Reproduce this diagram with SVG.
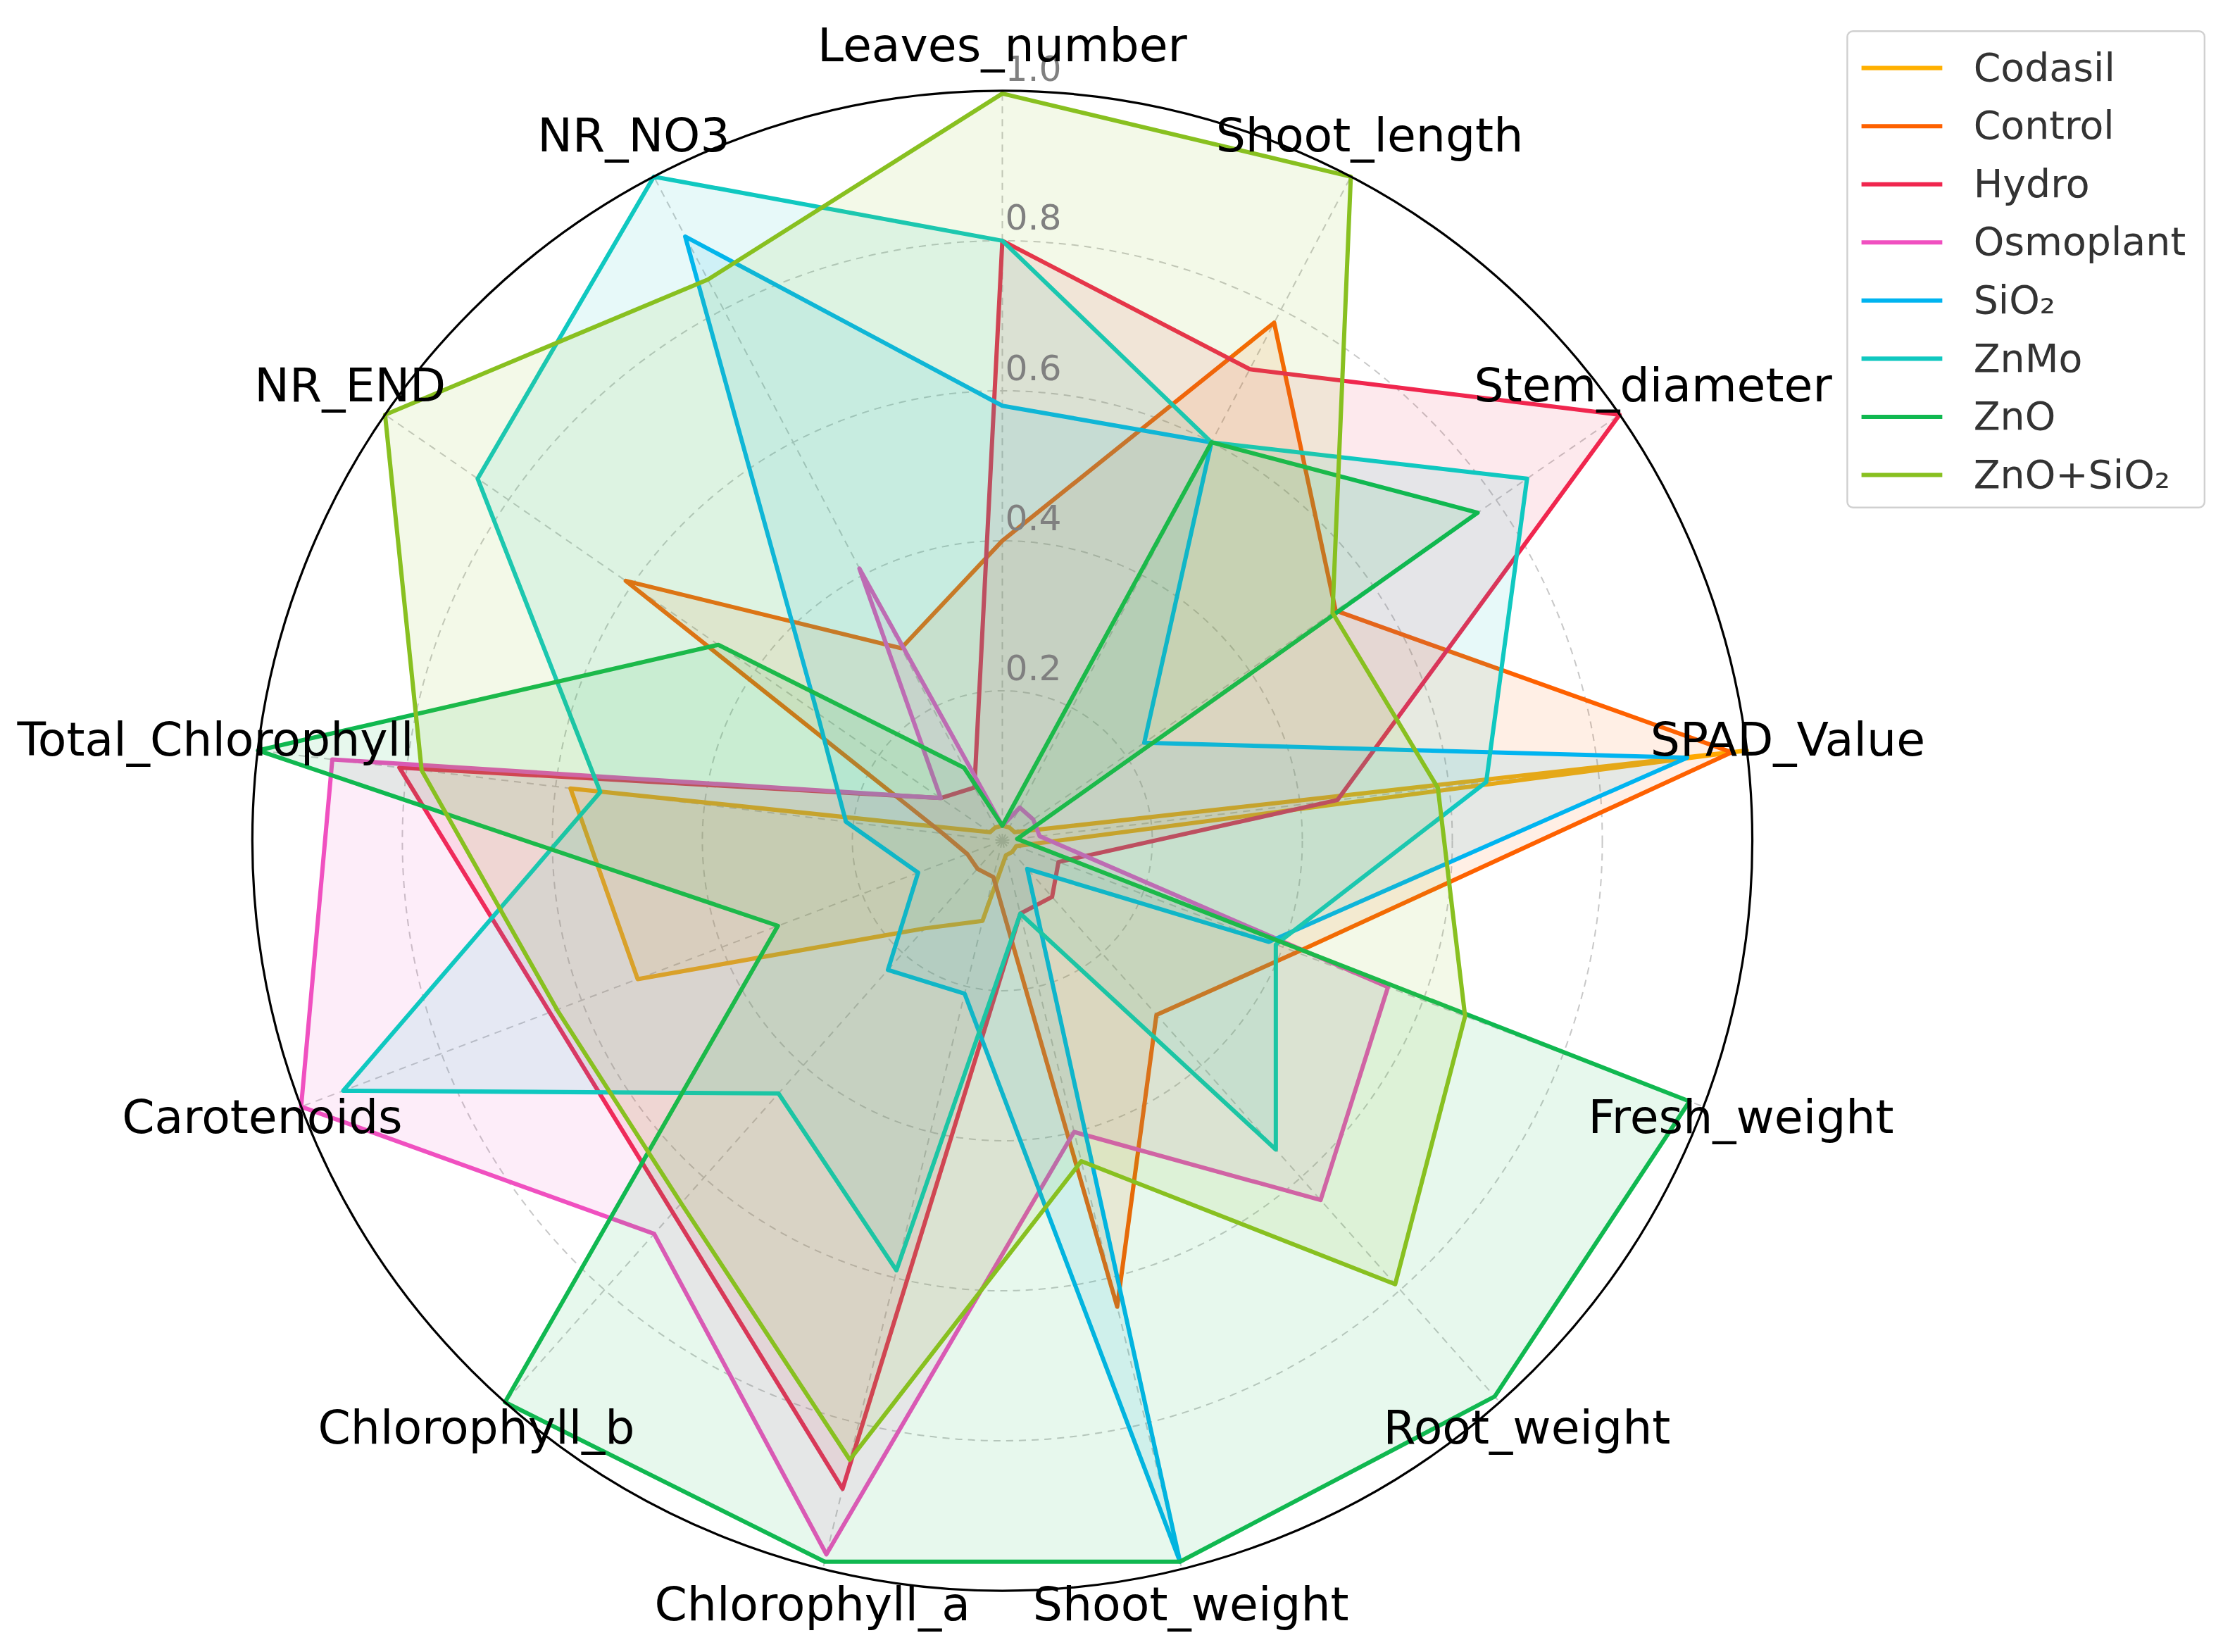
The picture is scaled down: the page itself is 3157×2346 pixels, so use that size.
<svg xmlns="http://www.w3.org/2000/svg" width="3157" height="2346" viewBox="0 0 3157 2346">
<style>
text{font-family:"DejaVu Sans","Liberation Sans",sans-serif}
.lab{font-size:33px;fill:#000;text-anchor:middle}
.tick{font-size:25px;fill:#808080}
.grid{fill:none;stroke:#c8c8c8;stroke-width:1;stroke-dasharray:5,4}
.s{stroke-width:3;stroke-linejoin:round}
.leg{font-size:27.5px;fill:#333}
</style>
<rect width="3157" height="2346" fill="#fff"/>
<g transform="scale(2.0134)">
<g transform="translate(707,593)">
<g id="grid">
<circle class="grid" r="105.8"/><circle class="grid" r="211.6"/><circle class="grid" r="317.4"/><circle class="grid" r="423.2"/>
<path class="grid" d="M0 0L0 -529M0 0L245.8 -468.4M0 0L435.4 -300.5M0 0L525.1 -63.7M0 0L494.6 187.6M0 0L350.8 396M0 0L126.6 513.6M0 0L-126.6 513.6M0 0L-350.8 396M0 0L-494.6 187.6M0 0L-525.1 -63.7M0 0L-435.4 -300.5M0 0L-245.8 -468.4"/>
</g>
<g id="connectors">
<polygon id="Codasil" class="s" fill="#FFB000" fill-opacity="0.1" stroke="#FFB000" points="0,-10.6 4.9,-9.4 8.7,-6 525.1,-63.7 9.9,3.8 7,7.9 2.5,10.3 -14,56.5 -54.7,61.8 -257.2,97.6 -304.6,-36.9 -8.7,-6 -4.9,-9.4"/>
<polygon id="Control" class="s" fill="#FE6100" fill-opacity="0.1" stroke="#FE6100" points="0,-211.6 191.7,-365.4 235.1,-162.3 514.6,-62.4 207.4,78.8 108.7,122.8 81,328.7 -6.3,25.7 -17.5,19.8 -24.7,9.4 -42,-5.1 -265.6,-183.3 -71.3,-135.8"/>
<polygon id="Hydro" class="s" fill="#F0264E" fill-opacity="0.1" stroke="#F0264E" points="0,-423.2 174.5,-332.6 435.4,-300.5 236.3,-28.7 39.6,15 35.1,39.6 12.7,51.4 -112.7,457.1 -232.4,262.3 -319.3,120.9 -425.3,-51.6 -43.5,-30.1 -19.7,-37.5"/>
<polygon id="Osmoplant" class="s" fill="#F050C0" fill-opacity="0.1" stroke="#F050C0" points="0,-10.6 12.3,-23.4 21.8,-15 26.3,-3.2 272,103.2 224.5,253.4 50.6,205.4 -124.1,503.3 -245.6,277.2 -494.6,187.6 -472.6,-57.3 -43.5,-30.1 -100.8,-192"/>
<polygon id="SiO2" class="s" fill="#00B4F0" fill-opacity="0.1" stroke="#00B4F0" points="0,-306.8 147.5,-281 100.1,-69.1 483.1,-58.6 188,71.3 17.5,19.8 125.3,508.5 -26.6,107.9 -80.7,91.1 -59.4,22.5 -110.3,-13.4 -130.6,-90.2 -223.7,-426.2"/>
<polygon id="ZnMo" class="s" fill="#10C8C0" fill-opacity="0.1" stroke="#10C8C0" points="0,-423.2 147.5,-281 370.1,-255.4 341.3,-41.4 192.9,73.2 192.9,217.8 12.7,51.4 -74.7,303 -157.9,178.2 -464.9,176.3 -283.6,-34.4 -370.1,-255.4 -245.8,-468.4"/>
<polygon id="ZnO" class="s" fill="#10B850" fill-opacity="0.1" stroke="#10B850" points="0,-10.6 147.5,-281 335.3,-231.4 10.5,-1.3 484.7,183.8 347.3,392 125.3,508.5 -125.3,508.5 -350.8,396 -158.3,60 -525.1,-63.7 -200.3,-138.2 -27,-51.5"/>
<polygon id="ZnO_SiO2" class="s" fill="#88C020" fill-opacity="0.1" stroke="#88C020" points="0,-527 245.8,-468.4 232.9,-160.8 307.2,-37.3 326.4,123.8 277.1,312.8 55.7,226 -107.6,436.6 -226.6,255.6 -314,119.4 -409.6,-49.7 -435.4,-300.5 -207.7,-395.8"/>
</g>
<circle r="529" fill="none" stroke="#000" stroke-width="1.6"/>
<g id="ticks">
<text class="tick" x="2" y="-113">0.2</text>
<text class="tick" x="2" y="-219">0.4</text>
<text class="tick" x="2" y="-325">0.6</text>
<text class="tick" x="2" y="-431">0.8</text>
<text class="tick" x="2" y="-536">1.0</text>
</g>
</g>
<g id="labels">
<text class="lab" x="707" y="43">Leaves_number</text>
<text class="lab" x="966" y="107">Shoot_length</text>
<text class="lab" x="1166" y="283">Stem_diameter</text>
<text class="lab" x="1261" y="533">SPAD_Value</text>
<text class="lab" x="1228" y="799">Fresh_weight</text>
<text class="lab" x="1077" y="1018">Root_weight</text>
<text class="lab" x="840" y="1143">Shoot_weight</text>
<text class="lab" x="573" y="1143">Chlorophyll_a</text>
<text class="lab" x="336" y="1018">Chlorophyll_b</text>
<text class="lab" x="185" y="799">Carotenoids</text>
<text class="lab" x="152" y="533">Total_Chlorophyll</text>
<text class="lab" x="247" y="283">NR_END</text>
<text class="lab" x="447" y="107">NR_NO3</text>
</g>
<g id="legend">
<rect x="1303" y="22" width="252" height="336" rx="4" fill="#fff" fill-opacity="0.8" stroke="#d0d0d0" stroke-width="1.2"/>
<g stroke-width="3">
<line x1="1313" y1="48" x2="1370" y2="48" stroke="#FFB000"/>
<line x1="1313" y1="89" x2="1370" y2="89" stroke="#FE6100"/>
<line x1="1313" y1="130" x2="1370" y2="130" stroke="#F0264E"/>
<line x1="1313" y1="171" x2="1370" y2="171" stroke="#F050C0"/>
<line x1="1313" y1="212" x2="1370" y2="212" stroke="#00B4F0"/>
<line x1="1313" y1="253" x2="1370" y2="253" stroke="#10C8C0"/>
<line x1="1313" y1="294" x2="1370" y2="294" stroke="#10B850"/>
<line x1="1313" y1="335" x2="1370" y2="335" stroke="#88C020"/>
</g>
<text class="leg" x="1392" y="57">Codasil</text>
<text class="leg" x="1392" y="98">Control</text>
<text class="leg" x="1392" y="139">Hydro</text>
<text class="leg" x="1392" y="180">Osmoplant</text>
<text class="leg" x="1392" y="221">SiO₂</text>
<text class="leg" x="1392" y="262">ZnMo</text>
<text class="leg" x="1392" y="303">ZnO</text>
<text class="leg" x="1392" y="344">ZnO+SiO₂</text>
</g>
</g>
</svg>
